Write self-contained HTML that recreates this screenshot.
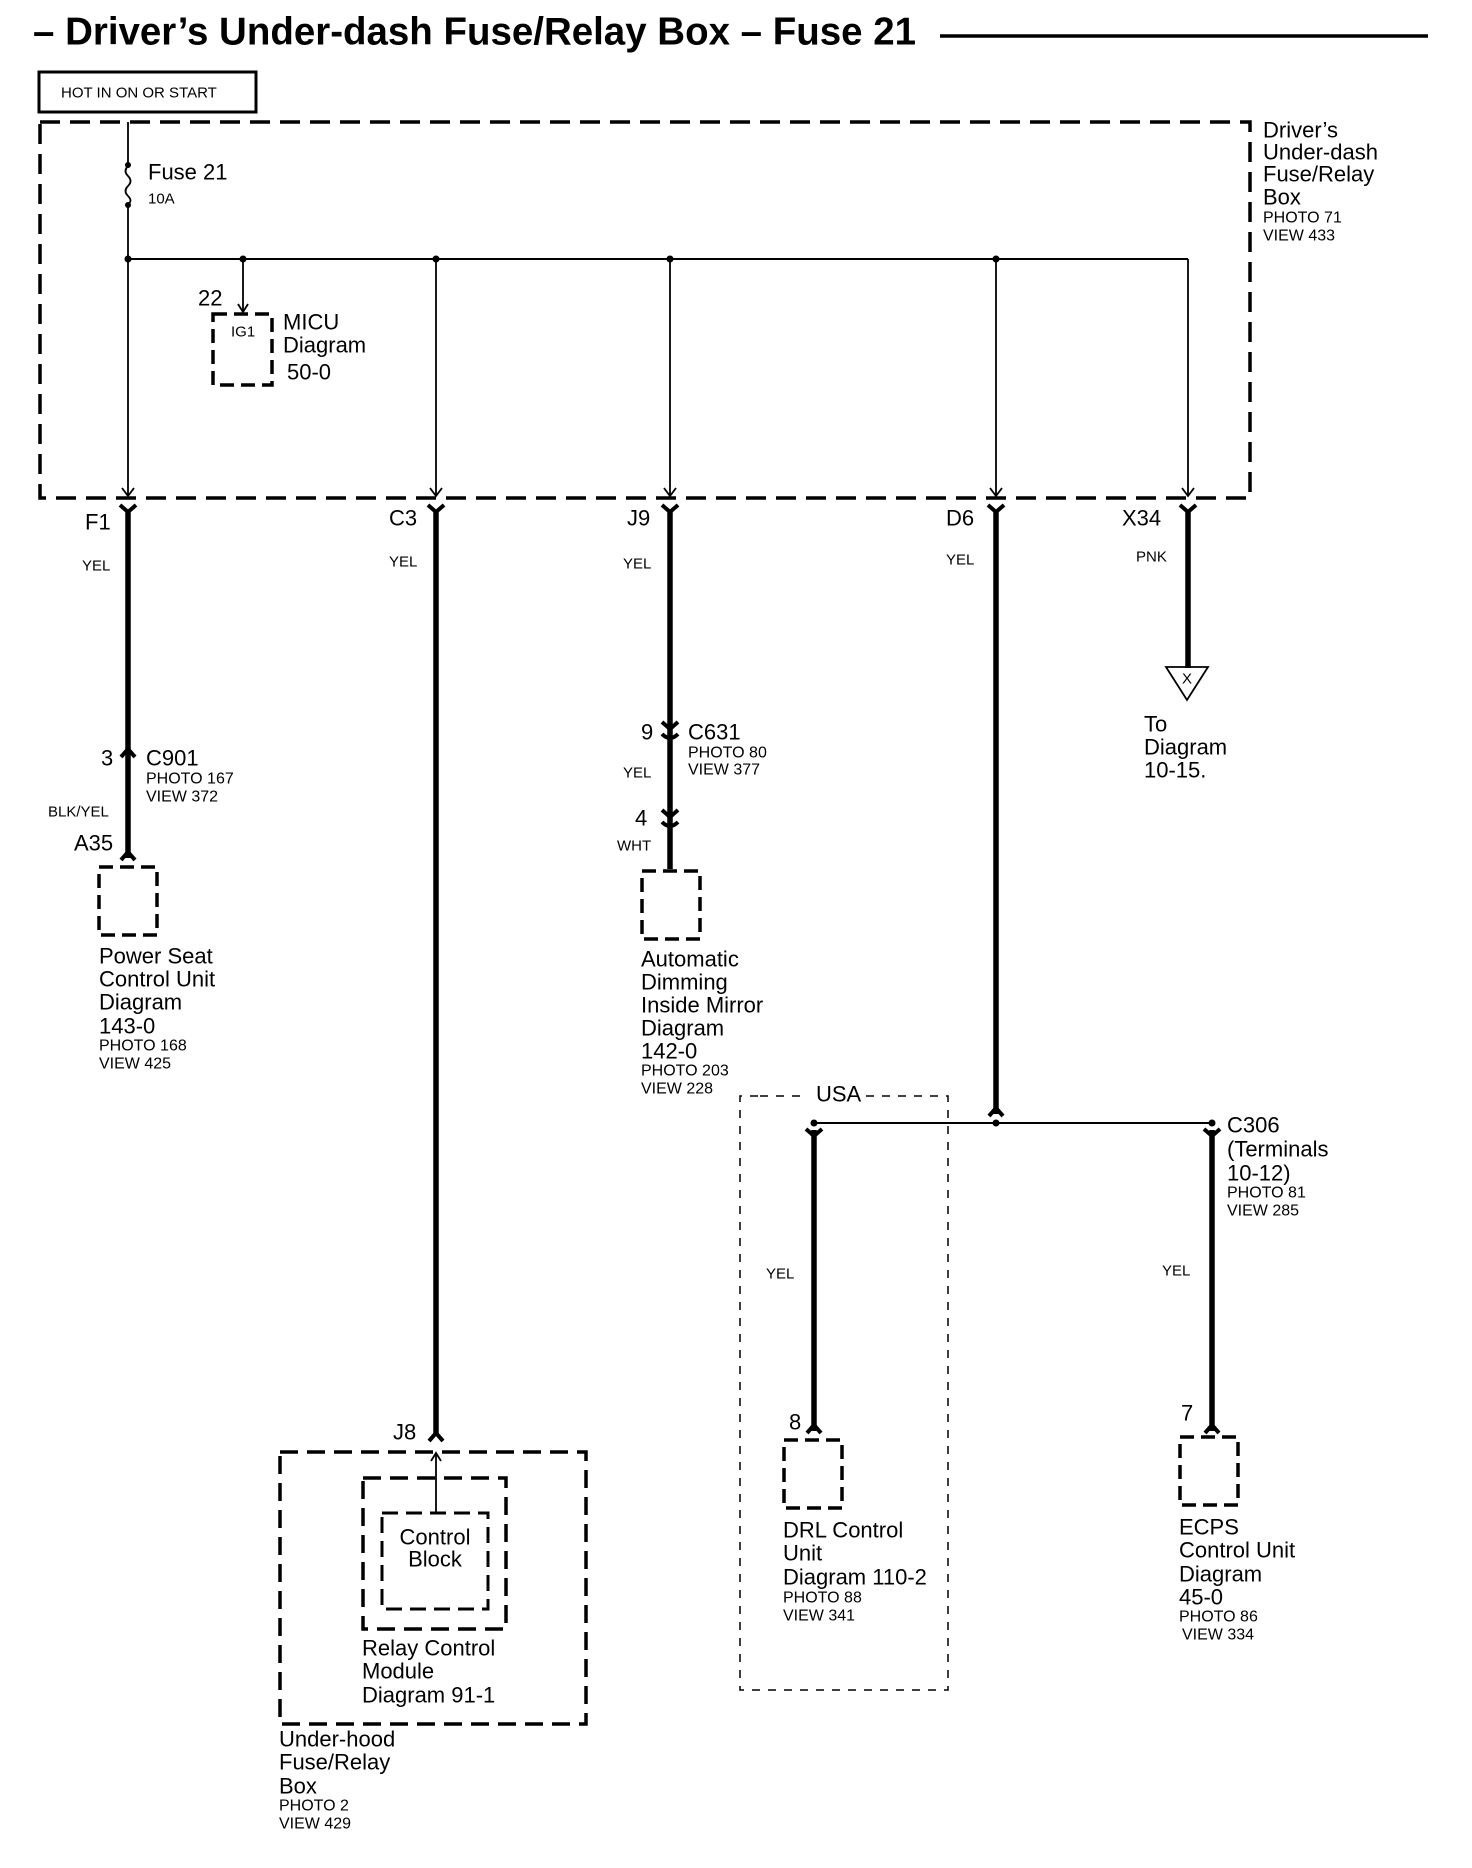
<!DOCTYPE html>
<html><head><meta charset="utf-8"><style>
html,body{margin:0;padding:0;background:#fff}
svg{display:block}
text{font-family:"Liberation Sans",Arial,sans-serif;fill:#000}
.l{font-size:22px}
.s{font-size:16px}
.t{font-size:15px}
</style></head><body>
<svg width="1472" height="1868" viewBox="0 0 1472 1868" xmlns="http://www.w3.org/2000/svg">
<g dominant-baseline="central">
<!-- title -->
<text x="33" y="32" font-size="39" font-weight="bold" textLength="883" lengthAdjust="spacingAndGlyphs">– Driver’s Under-dash Fuse/Relay Box – Fuse 21</text>
<line x1="940" y1="36" x2="1428" y2="36" stroke="#000" stroke-width="3.5"/>
<rect x="39" y="72" width="217" height="40" fill="none" stroke="#000" stroke-width="3"/>
<text x="61" y="93" class="t">HOT IN ON OR START</text>

<!-- main dashed box -->
<rect x="40" y="122" width="1210" height="376" fill="none" stroke="#000" stroke-width="3.5" stroke-dasharray="20,10"/>
<text x="1263" y="130" class="l">Driver’s</text>
<text x="1263" y="152" class="l">Under-dash</text>
<text x="1263" y="174" class="l">Fuse/Relay</text>
<text x="1263" y="197" class="l">Box</text>
<text x="1263" y="218" class="s">PHOTO 71</text>
<text x="1263" y="236" class="s">VIEW 433</text>

<!-- fuse -->
<g stroke="#000" fill="none">
<line x1="128" y1="122" x2="128" y2="164" stroke-width="1.8"/>
<path d="M128 166 q-5 5 0 10 q5 5 0 10 q-5 5 0 10 q5 5 0 8" stroke-width="1.8"/>
<line x1="128" y1="205" x2="128" y2="496" stroke-width="1.8"/>
</g>
<circle cx="128" cy="165" r="3"/><circle cx="128" cy="205" r="3"/>
<text x="148" y="172" class="l">Fuse 21</text>
<text x="148" y="199" class="t">10A</text>

<!-- bus -->
<line x1="128" y1="259" x2="1188" y2="259" stroke="#000" stroke-width="2"/>
<g fill="#000"><circle cx="128" cy="259" r="3.5"/><circle cx="243" cy="259" r="3.5"/><circle cx="436" cy="259" r="3.5"/><circle cx="670" cy="259" r="3.5"/><circle cx="996" cy="259" r="3.5"/></g>
<g stroke="#000" stroke-width="1.8" fill="none">
<line x1="436" y1="259" x2="436" y2="496"/>
<line x1="670" y1="259" x2="670" y2="496"/>
<line x1="996" y1="259" x2="996" y2="496"/>
<line x1="1188" y1="259" x2="1188" y2="496"/>
<line x1="243" y1="259" x2="243" y2="312"/>
<path d="M238 304 L243 312 L248 304"/>
<path d="M122 488 L128 496 L134 488"/>
<path d="M430 488 L436 496 L442 488"/>
<path d="M664 488 L670 496 L676 488"/>
<path d="M990 488 L996 496 L1002 488"/>
<path d="M1182 488 L1188 496 L1194 488"/>
</g>
<!-- MICU -->
<rect x="213" y="314" width="59" height="71" fill="none" stroke="#000" stroke-width="3.5" stroke-dasharray="14,7"/>
<text x="198" y="298" class="l">22</text>
<text x="231" y="332" class="t">IG1</text>
<text x="283" y="322" class="l">MICU</text>
<text x="283" y="345" class="l">Diagram</text>
<text x="287" y="372" class="l">50-0</text>

<!-- thick wires -->
<g stroke="#000" stroke-width="5.5" fill="none">
<line x1="128" y1="512" x2="128" y2="858"/>
<line x1="436" y1="512" x2="436" y2="1434"/>
<line x1="670" y1="512" x2="670" y2="869"/>
<line x1="996" y1="512" x2="996" y2="1114"/>
<line x1="1188" y1="512" x2="1188" y2="668"/>
<line x1="814" y1="1130" x2="814" y2="1431"/>
<line x1="1212" y1="1130" x2="1212" y2="1431"/>
</g>
<!-- Y forks -->
<g stroke="#000" stroke-width="4" fill="none">
<path d="M120 505 L128 512 L136 505"/>
<path d="M428 505 L436 512 L444 505"/>
<path d="M662 505 L670 512 L678 505"/>
<path d="M988 505 L996 512 L1004 505"/>
<path d="M1180 505 L1188 512 L1196 505"/>
<path d="M806 1129 L814 1136 L822 1129"/>
<path d="M1204 1129 L1212 1136 L1220 1129"/>
<!-- female ^ -->
<path d="M121 757 L128 749 L135 757"/>
<path d="M121 860 L128 852 L135 860"/>
<path d="M429 1441 L436 1433 L443 1441"/>
<path d="M989 1116 L996 1108 L1003 1116"/>
<path d="M807 1433 L814 1425 L821 1433"/>
<path d="M1205 1433 L1212 1425 L1219 1433"/>
<!-- C631 -->
<path d="M662 722 L670 729 L678 722"/>
<path d="M662 734 Q670 742 678 734"/>
<path d="M662 810 L670 817 L678 810"/>
<path d="M662 822 Q670 830 678 822"/>
</g>
<text x="85" y="522" class="l">F1</text>
<text x="389" y="518" class="l">C3</text>
<text x="627" y="518" class="l">J9</text>
<text x="946" y="518" class="l">D6</text>
<text x="1122" y="518" class="l">X34</text>
<text x="82" y="566" class="t">YEL</text>
<text x="389" y="562" class="t">YEL</text>
<text x="623" y="564" class="t">YEL</text>
<text x="946" y="560" class="t">YEL</text>
<text x="1136" y="557" class="t">PNK</text>

<!-- F1 branch -->
<text x="101" y="758" class="l">3</text>
<text x="146" y="758" class="l">C901</text>
<text x="146" y="779" class="s">PHOTO 167</text>
<text x="146" y="797" class="s">VIEW 372</text>
<text x="48" y="812" class="t">BLK/YEL</text>
<text x="74" y="843" class="l">A35</text>
<rect x="99" y="867" width="58" height="68" fill="none" stroke="#000" stroke-width="3.5" stroke-dasharray="14,7"/>
<text x="99" y="956" class="l">Power  Seat</text>
<text x="99" y="979" class="l">Control  Unit</text>
<text x="99" y="1002" class="l">Diagram</text>
<text x="99" y="1026" class="l">143-0</text>
<text x="99" y="1046" class="s">PHOTO 168</text>
<text x="99" y="1064" class="s">VIEW 425</text>

<!-- J9 branch -->
<text x="641" y="732" class="l">9</text>
<text x="688" y="732" class="l">C631</text>
<text x="688" y="753" class="s">PHOTO 80</text>
<text x="688" y="770" class="s">VIEW 377</text>
<text x="623" y="773" class="t">YEL</text>
<text x="635" y="818" class="l">4</text>
<text x="617" y="846" class="t">WHT</text>
<rect x="642" y="871" width="58" height="68" fill="none" stroke="#000" stroke-width="3.5" stroke-dasharray="14,7"/>
<text x="641" y="959" class="l">Automatic</text>
<text x="641" y="982" class="l">Dimming</text>
<text x="641" y="1005" class="l">Inside Mirror</text>
<text x="641" y="1028" class="l">Diagram</text>
<text x="641" y="1051" class="l">142-0</text>
<text x="641" y="1071" class="s">PHOTO 203</text>
<text x="641" y="1089" class="s">VIEW 228</text>

<!-- X34 -->
<path d="M1166 667 L1208 667 L1187 700 Z" fill="none" stroke="#000" stroke-width="1.8"/>
<text x="1187" y="679" class="t" text-anchor="middle">X</text>
<text x="1144" y="724" class="l">To</text>
<text x="1144" y="747" class="l">Diagram</text>
<text x="1144" y="770" class="l">10-15.</text>

<!-- D6 split -->
<line x1="814" y1="1123" x2="1212" y2="1123" stroke="#000" stroke-width="2"/>
<g fill="#000"><circle cx="814" cy="1123" r="3.5"/><circle cx="996" cy="1123" r="3.5"/><circle cx="1212" cy="1123" r="3.5"/></g>
<path d="M760 1096 L808 1096 M866 1096 L948 1096 L948 1690 L740 1690 L740 1096 L760 1096" fill="none" stroke="#000" stroke-width="1.5" stroke-dasharray="8,8"/>
<text x="816" y="1094" class="l">USA</text>
<text x="766" y="1274" class="t">YEL</text>
<text x="789" y="1422" class="l">8</text>
<rect x="784" y="1440" width="58" height="68" fill="none" stroke="#000" stroke-width="3.5" stroke-dasharray="14,7"/>
<text x="783" y="1530" class="l">DRL Control</text>
<text x="783" y="1553" class="l">Unit</text>
<text x="783" y="1577" class="l">Diagram 110-2</text>
<text x="783" y="1598" class="s">PHOTO 88</text>
<text x="783" y="1616" class="s">VIEW 341</text>

<text x="1227" y="1125" class="l">C306</text>
<text x="1227" y="1149" class="l">(Terminals</text>
<text x="1227" y="1173" class="l">10-12)</text>
<text x="1227" y="1193" class="s">PHOTO 81</text>
<text x="1227" y="1211" class="s">VIEW 285</text>
<text x="1162" y="1271" class="t">YEL</text>
<text x="1181" y="1413" class="l">7</text>
<rect x="1180" y="1437" width="58" height="68" fill="none" stroke="#000" stroke-width="3.5" stroke-dasharray="14,7"/>
<text x="1179" y="1527" class="l">ECPS</text>
<text x="1179" y="1550" class="l">Control Unit</text>
<text x="1179" y="1574" class="l">Diagram</text>
<text x="1179" y="1597" class="l">45-0</text>
<text x="1179" y="1617" class="s">PHOTO 86</text>
<text x="1182" y="1635" class="s">VIEW 334</text>

<!-- Under-hood -->
<text x="393" y="1432" class="l">J8</text>
<rect x="280" y="1452" width="306" height="272" fill="none" stroke="#000" stroke-width="3.5" stroke-dasharray="18,9"/>
<rect x="363" y="1478" width="143" height="151" fill="none" stroke="#000" stroke-width="3.5" stroke-dasharray="18,9"/>
<rect x="382" y="1513" width="106" height="96" fill="none" stroke="#000" stroke-width="3" stroke-dasharray="16,8"/>
<line x1="436" y1="1513" x2="436" y2="1453" stroke="#000" stroke-width="1.8"/>
<path d="M431 1461 L436 1453 L441 1461" fill="none" stroke="#000" stroke-width="1.8"/>
<text x="435" y="1537" class="l" text-anchor="middle">Control</text>
<text x="435" y="1559" class="l" text-anchor="middle">Block</text>
<text x="362" y="1648" class="l">Relay Control</text>
<text x="362" y="1671" class="l">Module</text>
<text x="362" y="1695" class="l">Diagram 91-1</text>
<text x="279" y="1739" class="l">Under-hood</text>
<text x="279" y="1762" class="l">Fuse/Relay</text>
<text x="279" y="1786" class="l">Box</text>
<text x="279" y="1806" class="s">PHOTO 2</text>
<text x="279" y="1824" class="s">VIEW 429</text>
</g>
</svg>
</body></html>
